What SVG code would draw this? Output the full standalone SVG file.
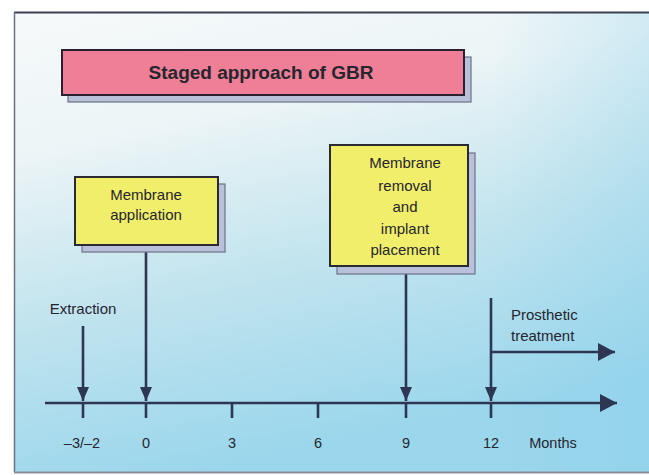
<svg xmlns="http://www.w3.org/2000/svg" width="649" height="475" viewBox="0 0 649 475">
<defs>
<linearGradient id="bg" x1="0" y1="0" x2="0.3" y2="1">
<stop offset="0" stop-color="#f7fafb"/>
<stop offset="0.3" stop-color="#ebf4f6"/>
<stop offset="0.62" stop-color="#c2e4ee"/>
<stop offset="1" stop-color="#9ad6ec"/>
</linearGradient>
<linearGradient id="side" x1="0" y1="0" x2="1" y2="0">
<stop offset="0.75" stop-color="#7fcbea" stop-opacity="0"/>
<stop offset="1" stop-color="#7fcbea" stop-opacity="0.25"/>
</linearGradient>
<marker id="ad" viewBox="0 0 14 12" refX="14" refY="6" markerWidth="14" markerHeight="12" markerUnits="userSpaceOnUse" orient="auto">
<path d="M0,0 L14,6 L0,12 Z" fill="#2d3652"/>
</marker>
<marker id="ar" viewBox="0 0 17 18" refX="17" refY="9" markerWidth="17" markerHeight="18" markerUnits="userSpaceOnUse" orient="auto">
<path d="M0,0 L17,9 L0,18 Z" fill="#2d3652"/>
</marker>
</defs>
<style>
.ln{stroke:#2d3652;stroke-width:2.6;fill:none}
.box{fill:#f1ee6c;stroke:#2a2a35;stroke-width:2}
.sh{fill:#b9c1da;stroke:#6c7288;stroke-width:1.2}
.t{font-family:"Liberation Sans",Arial,sans-serif;fill:#26262e;text-anchor:middle}
.bt{font-size:15px}
.ax{font-size:14.5px}
.st{text-anchor:start}
</style>
<rect x="0" y="0" width="649" height="475" fill="#ffffff"/>
<rect x="14" y="12" width="640" height="461" fill="url(#bg)"/>
<rect x="14" y="12" width="640" height="461" fill="url(#side)"/>
<line x1="14" y1="12.5" x2="649" y2="12.5" stroke="#3a4052" stroke-width="2"/>
<line x1="14.5" y1="12" x2="14.5" y2="472" stroke="#6b7283" stroke-width="1.5"/>
<line x1="14" y1="472.5" x2="649" y2="472.5" stroke="#8b9098" stroke-width="2"/>

<g id="title">
<rect class="sh" x="68" y="57" width="403" height="45"/>
<rect x="62" y="50" width="402" height="45" fill="#ef7e97" stroke="#2a2030" stroke-width="2"/>
<text class="t" x="261" y="79" font-size="19" font-weight="bold">Staged approach of GBR</text>
</g>

<g id="connectors">
<line class="ln" x1="45" y1="403" x2="617" y2="403" marker-end="url(#ar)"/>
<line class="ln" x1="232" y1="403" x2="232" y2="418"/>
<line class="ln" x1="318" y1="403" x2="318" y2="418"/>
<line class="ln" x1="83" y1="403" x2="83" y2="418"/>
<line class="ln" x1="146" y1="403" x2="146" y2="418"/>
<line class="ln" x1="406" y1="403" x2="406" y2="418"/>
<line class="ln" x1="491" y1="403" x2="491" y2="418"/>
<line class="ln" x1="83" y1="326" x2="83" y2="401" marker-end="url(#ad)"/>
<line class="ln" x1="146" y1="252" x2="146" y2="401" marker-end="url(#ad)"/>
<line class="ln" x1="406" y1="274" x2="406" y2="401" marker-end="url(#ad)"/>
<line class="ln" x1="491" y1="298" x2="491" y2="401" marker-end="url(#ad)"/>
<line class="ln" x1="491" y1="352" x2="615" y2="352" marker-end="url(#ar)"/>
</g>

<g id="membrane-application">
<rect class="sh" x="82" y="184" width="143" height="68"/>
<rect class="box" x="75" y="177" width="143" height="68"/>
<text class="t bt" x="146" y="200">Membrane</text>
<text class="t bt" x="146" y="220">application</text>
</g>

<g id="membrane-removal">
<rect class="sh" x="337" y="153" width="138" height="121"/>
<rect class="box" x="330" y="145" width="138" height="121"/>
<text class="t bt" x="405" y="168">Membrane</text>
<text class="t bt" x="405" y="191">removal</text>
<text class="t bt" x="405" y="212">and</text>
<text class="t bt" x="405" y="234">implant</text>
<text class="t bt" x="405" y="255">placement</text>
</g>

<g id="extraction">
<text class="t bt" x="83" y="314">Extraction</text>
</g>

<g id="prosthetic">
<text class="t bt st" x="511" y="320">Prosthetic</text>
<text class="t bt st" x="511" y="341">treatment</text>
</g>

<g id="axis-labels">
<text class="t ax" x="82" y="448">–3/–2</text>
<text class="t ax" x="146" y="448">0</text>
<text class="t ax" x="232" y="448">3</text>
<text class="t ax" x="318" y="448">6</text>
<text class="t ax" x="406" y="448">9</text>
<text class="t ax" x="491" y="448">12</text>
<text class="t ax" x="553" y="448">Months</text>
</g>
</svg>
